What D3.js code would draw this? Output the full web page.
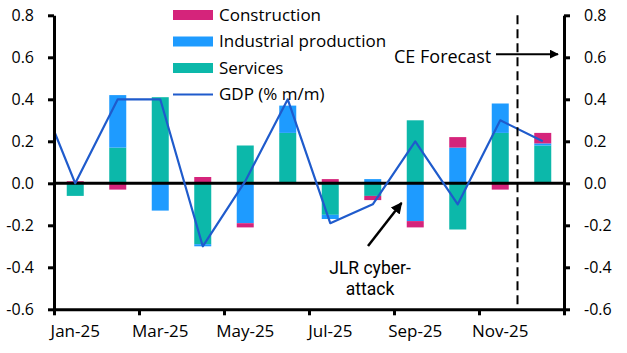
<!DOCTYPE html>
<html>
<head>
<meta charset="utf-8">
<script src="https://cdn.jsdelivr.net/npm/d3@7"></script>
<style>
  html, body { margin: 0; padding: 0; background: #fff; }
  svg { display: block; font-family: "Open Sans", sans-serif; }
</style>
</head>
<body>
<svg id="chart" width="627" height="353"></svg>
<script>
// ---- Data ----
const months = ["Jan-25","Feb-25","Mar-25","Apr-25","May-25","Jun-25","Jul-25","Aug-25","Sep-25","Oct-25","Nov-25","Dec-25"];
const construction = [0.01, -0.03, 0.00, 0.03, -0.02, 0.00, 0.02, -0.02, -0.03, 0.05, -0.03, 0.05];
const industrial   = [0.00,  0.25, -0.13, -0.01, -0.19, 0.13, -0.02, 0.02, -0.18, 0.17, 0.14, 0.01];
const services     = [-0.06, 0.17, 0.41, -0.29, 0.18, 0.24, -0.15, -0.06, 0.30, -0.22, 0.24, 0.18];
const gdp          = [0.00, 0.40, 0.40, -0.30, 0.01, 0.40, -0.19, -0.10, 0.20, -0.10, 0.30, 0.20];
const gdpPrevMonth = 0.5; // Dec-24, line enters from the left edge
const xTickLabels = ["Jan-25","Mar-25","May-25","Jul-25","Sep-25","Nov-25"];
const yTicks = [-0.6, -0.4, -0.2, 0.0, 0.2, 0.4, 0.6, 0.8];
const seriesKeys = ["services", "industrial", "construction"];
const seriesNames = {construction: "Construction", industrial: "Industrial production", services: "Services"};
const colors = {construction: "#D5247B", industrial: "#1E9BFF", services: "#0CB8AA", gdp: "#1F5BCC"};
const forecastStart = "Dec-25";

// ---- Layout ----
const svg = d3.select("#chart");
const X0 = 54, X1 = 564, Y0 = 15.3, Y1 = 309.3;

const x = d3.scaleBand().domain(months).range([X0, X1]).paddingInner(0.6).paddingOuter(0.3);
const step = x.step();
const xc = m => x(m) + x.bandwidth() / 2;
const y = d3.scaleLinear().domain([-0.6, 0.8]).range([Y1, Y0]);

const rows = months.map((m, i) => ({month: m, construction: construction[i], industrial: industrial[i], services: services[i]}));
const stacked = d3.stack().keys(seriesKeys).offset(d3.stackOffsetDiverging)(rows);

svg.append("defs").append("clipPath").attr("id", "plotclip")
  .append("rect").attr("x", X0).attr("y", 0).attr("width", X1 - X0).attr("height", 353);

// bars
svg.append("g").selectAll("g").data(stacked).join("g")
  .attr("fill", d => colors[d.key])
  .selectAll("rect").data(d => d).join("rect")
  .attr("x", d => x(d.data.month))
  .attr("width", x.bandwidth())
  .attr("y", d => y(Math.max(d[0], d[1])))
  .attr("height", d => Math.abs(y(d[0]) - y(d[1])));

// zero line
svg.append("line").attr("x1", X0).attr("x2", X1).attr("y1", y(0)).attr("y2", y(0))
  .attr("stroke", "#000").attr("stroke-width", 3);

// GDP line
const linePts = [{xv: xc(months[0]) - step, v: gdpPrevMonth}].concat(months.map((m, i) => ({xv: xc(m), v: gdp[i]})));
svg.append("path").datum(linePts)
  .attr("clip-path", "url(#plotclip)")
  .attr("fill", "none").attr("stroke", colors.gdp).attr("stroke-width", 2.2)
  .attr("stroke-linejoin", "round")
  .attr("d", d3.line().x(d => d.xv).y(d => y(d.v)));

// forecast dashed line
const xF = x(forecastStart) - (step - x.bandwidth()) / 2 - 4;
svg.append("line").attr("x1", xF).attr("x2", xF).attr("y1", Y0).attr("y2", Y1)
  .attr("stroke", "#000").attr("stroke-width", 2).attr("stroke-dasharray", "9,5");

// axes
const fmt = d => d.toFixed(1);
const axL = svg.append("g").attr("transform", `translate(${X0},0)`)
  .call(d3.axisLeft(y).tickValues(yTicks).tickFormat(fmt).tickSize(6).tickSizeOuter(0).tickPadding(14));
const axR = svg.append("g").attr("transform", `translate(${X1},0)`)
  .call(d3.axisRight(y).tickValues(yTicks).tickFormat(fmt).tickSize(6).tickSizeOuter(0).tickPadding(14));
const xIdx = d3.scaleLinear().domain([0, months.length]).range([X0, X1]);
const axB = svg.append("g").attr("transform", `translate(0,${Y1})`)
  .call(d3.axisBottom(xIdx).tickValues(d3.range(0, months.length + 1, 2)).tickFormat("").tickSize(6).tickSizeOuter(0));
const axBL = svg.append("g").attr("transform", `translate(0,${Y1})`)
  .call(d3.axisBottom(x).tickValues(xTickLabels).tickSize(0).tickPadding(16));
axBL.select(".domain").remove();
[axL, axR, axB].forEach(a => {
  a.select(".domain").attr("stroke-width", 3);
  a.selectAll(".tick line").attr("stroke-width", 3);
});
[axL, axR].forEach(a => a.selectAll("text").attr("font-size", 16).attr("fill", "#000"));
axBL.selectAll("text").attr("font-size", 17).attr("fill", "#000");
svg.selectAll(".tick text").attr("font-family", "Open Sans");

// legend
const legendItems = ["construction", "industrial", "services", "gdp"];
const lg = svg.append("g");
legendItems.forEach((k, i) => {
  const cy = 15 + i * 26.5;
  if (k === "gdp") {
    lg.append("line").attr("x1", 173).attr("x2", 213).attr("y1", cy).attr("y2", cy)
      .attr("stroke", colors.gdp).attr("stroke-width", 2.2);
  } else {
    lg.append("rect").attr("x", 173).attr("y", cy - 5).attr("width", 40).attr("height", 10).attr("fill", colors[k]);
  }
  lg.append("text").attr("x", 219).attr("y", cy).attr("dy", "0.35em")
    .attr("font-size", 17).text(k === "gdp" ? "GDP (% m/m)" : seriesNames[k]);
});

// annotations
svg.append("defs").append("marker").attr("id", "ah").attr("viewBox", "0 0 10 10")
  .attr("refX", 9).attr("refY", 5).attr("markerWidth", 4.5).attr("markerHeight", 4.5)
  .attr("markerUnits", "strokeWidth").attr("orient", "auto")
  .append("path").attr("d", "M0,0 L10,5 L0,10 z").attr("fill", "#000");

svg.append("text").attr("x", 394).attr("y", 62.5).attr("font-size", 18).text("CE Forecast");
svg.append("line").attr("x1", 496).attr("y1", y(0.615)).attr("x2", 558).attr("y2", y(0.615))
  .attr("stroke", "#000").attr("stroke-width", 2).attr("marker-end", "url(#ah)");

svg.append("text").attr("x", 370).attr("y", 273.5).attr("text-anchor", "middle")
  .attr("font-family", "Roboto").attr("font-size", 17.5).text("JLR cyber-");
svg.append("text").attr("x", 370).attr("y", 295).attr("text-anchor", "middle")
  .attr("font-family", "Roboto").attr("font-size", 17.5).text("attack");
svg.append("line").attr("x1", 368).attr("y1", 246).attr("x2", 401.5).attr("y2", 203)
  .attr("stroke", "#000").attr("stroke-width", 2.5).attr("marker-end", "url(#ah)");
</script>
</body>
</html>
